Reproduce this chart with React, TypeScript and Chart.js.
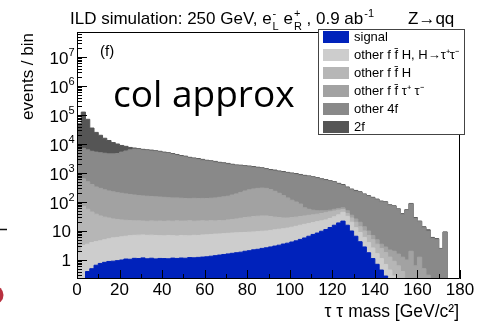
import React, { useEffect, useRef } from 'react';
import { Chart, registerables } from 'chart.js';

Chart.register(...registerables);

// ---- data (events / bin, cumulative stack heights as drawn, 2 GeV bins) ----
const binLowEdges = [
  0, 2, 4, 6, 8, 10, 12, 14, 16, 18,
  20, 22, 24, 26, 28, 30, 32, 34, 36, 38,
  40, 42, 44, 46, 48, 50, 52, 54, 56, 58,
  60, 62, 64, 66, 68, 70, 72, 74, 76, 78,
  80, 82, 84, 86, 88, 90, 92, 94, 96, 98,
  100, 102, 104, 106, 108, 110, 112, 114, 116, 118,
  120, 122, 124, 126, 128, 130, 132, 134, 136, 138,
  140, 142, 144, 146, 148, 150, 152, 154, 156, 158,
  160, 162, 164, 166, 168, 170, 172, 174, 176, 178,
];
const histUpperEdge = 180;

const stackSignal = [
  0.01, 0.2, 0.4, 0.5, 0.66, 0.76, 0.83, 0.89, 0.91, 0.95,
  1.0, 1.08, 1.06, 1.14, 1.12, 1.18, 1.1, 1.15, 1.09, 1.13,
  1.12, 1.1, 1.16, 1.13, 1.17, 1.15, 1.21, 1.19, 1.23, 1.26,
  1.29, 1.35, 1.41, 1.48, 1.55, 1.62, 1.7, 1.78, 1.86, 2.0,
  2.09, 2.24, 2.34, 2.51, 2.63, 2.82, 3.02, 3.24, 3.55, 3.8,
  4.17, 4.57, 5.13, 5.75, 6.6, 7.6, 8.5, 9.8, 11.2, 13.2,
  15.8, 19, 21.9, 15.8, 10, 6.6, 4.27, 2.82, 1.78, 1.12,
  0.71, 0.45, 0.28, 0.16, 0.01, 0.01, 0.01, 0.01, 0.01, 0.01,
  0.01, 0.01, 0.01, 0.01, 0.01, 0.01, 0.01, 0.01, 0.01, 0.01,
];
const stackHtautau = [
  2.0, 3.2, 3.5, 4.0, 4.3, 4.6, 5.0, 5.4, 5.8, 6.0,
  6.3, 6.6, 6.9, 7.1, 7.2, 7.3, 7.1, 7.2, 7.0, 6.9,
  6.8, 7.0, 6.9, 6.7, 7.0, 6.9, 6.8, 7.1, 7.0, 7.3,
  7.4, 7.6, 7.8, 7.9, 8.1, 8.3, 8.5, 8.7, 8.8, 8.9,
  9.1, 9.3, 9.5, 9.8, 10, 10.5, 11, 11.5, 12, 12.6,
  13.5, 14.5, 15.8, 17, 18.2, 19.5, 21, 22.4, 24, 27,
  31, 36, 44, 32, 20, 13, 8.9, 6.0, 4.0, 2.6,
  1.66, 1.12, 0.7, 0.45, 0.28, 0.16, 0.01, 0.01, 0.01, 0.01,
  0.01, 0.01, 0.01, 0.01, 0.01, 0.01, 0.01, 0.01, 0.01, 0.01,
];
const stackFFH = [
  79, 71, 56, 45, 38, 33, 30, 28, 26, 25,
  24, 23.4, 22.9, 22.4, 22.4, 22, 21.6, 22.3, 21.8, 22,
  21.5, 22.2, 21.7, 22.4, 21.9, 22, 22.6, 21.8, 22.1, 22.5,
  22, 22.7, 22.3, 23, 22.6, 24, 25, 26, 27.5, 29,
  30, 31.6, 32.4, 33, 33, 31.6, 30, 29, 28, 28,
  29, 30, 31.6, 33, 34.7, 36, 38, 40, 42.7, 45.7,
  49, 52.5, 55, 40, 28, 20, 14, 10, 7, 5,
  3.5, 2.5, 1.8, 1.26, 0.9, 0.63, 0.4, 0.01, 0.01, 0.01,
  0.01, 0.01, 0.01, 0.01, 0.01, 0.01, 0.01, 0.01, 0.01, 0.01,
];
const stackFFtautau = [
  710, 630, 500, 400, 330, 295, 263, 240, 224, 209,
  200, 190, 182, 174, 166, 162, 158, 155, 151, 148,
  145, 141, 138, 138, 135, 132, 130, 134, 131, 133,
  132, 135, 138, 145, 151, 158, 174, 190, 214, 240,
  263, 282, 295, 302, 295, 269, 234, 200, 166, 138,
  115, 100, 85, 63, 56, 52, 50, 50, 50, 52,
  56, 60, 63, 50, 35, 26, 20, 14, 10, 7,
  5, 3.5, 2.8, 2.2, 2.0, 1.6, 1.25, 1.0, 2.0, 0.63,
  1.25, 0.5, 0.3, 0.01, 0.01, 0.01, 0.01, 0.01, 0.01, 0.01,
];
const stack4f = [
  7100, 7100, 6300, 5600, 5250, 5000, 4800, 4570, 4570, 4680,
  5250, 5750, 6300, 6700, 6480, 6160, 5920, 5780, 5500, 5260,
  4930, 4700, 4420, 4090, 3760, 3570, 3260, 3100, 2970, 2770,
  2590, 2470, 2360, 2200, 2100, 2010, 1880, 1790, 1750, 1670,
  1640, 1560, 1490, 1420, 1330, 1240, 1180, 1100, 1050, 990,
  940, 900, 840, 780, 750, 700, 650, 590, 555, 510,
  470, 415, 375, 310, 265, 235, 212, 180, 155, 137,
  119, 102, 96, 76, 70, 55, 38, 51, 85, 27,
  21, 13, 10, 5.6, 5.2, 2.4, 9, 0.01, 0.01, 0.01,
];
const stack2f = [
  50000, 126000, 71000, 35500, 25100, 20000, 15800, 13200, 11200, 10000,
  8900, 8300, 7600, 7250, 6900, 6550, 6300, 6150, 5850, 5600,
  5250, 5000, 4700, 4350, 4000, 3800, 3470, 3300, 3160, 2950,
  2750, 2630, 2510, 2340, 2240, 2140, 2000, 1900, 1860, 1780,
  1740, 1660, 1580, 1510, 1410, 1320, 1260, 1175, 1120, 1050,
  1000, 955, 890, 830, 795, 740, 690, 630, 590, 540,
  500, 440, 400, 330, 280, 250, 225, 190, 165, 145,
  126, 108, 102, 80, 74, 58, 40, 54, 89, 29,
  22, 14, 11, 6, 5.5, 2.5, 9.3, 0.01, 0.01, 0.01,
];

const seriesLabels = [
  'signal',
  'other f f\u0304 H, H\u2192\u03C4\u207A\u03C4\u207B',
  'other f f\u0304 H',
  'other f f\u0304 \u03C4\u207A \u03C4\u207B',
  'other 4f',
  '2f',
];
const seriesColors = ['#0022bb', '#cdcdcd', '#b6b6b6', '#a2a2a2', '#898989', '#555555'];

const xTickValues = [0, 20, 40, 60, 80, 100, 120, 140, 160, 180];
const yDecadeExponents = [0, 1, 2, 3, 4, 5, 6, 7];

const Y_MIN = 0.221;
const Y_MAX = 7.28e7;

const FONT = '"Liberation Sans", Arial, Helvetica, sans-serif';

function drawTitle(ctx: CanvasRenderingContext2D) {
  const big = 17;
  const small = 11;
  let x = 70;
  const y = 24;
  ctx.textAlign = 'left';
  ctx.textBaseline = 'alphabetic';
  const main = (t: string) => {
    ctx.font = `${big}px ${FONT}`;
    ctx.fillText(t, x, y);
    x += ctx.measureText(t).width;
  };
  const stack = (sup: string, sub: string) => {
    ctx.font = `${small}px ${FONT}`;
    ctx.fillText(sup, x + 1, y - 7);
    ctx.fillText(sub, x + 1, y + 6);
    x += Math.max(ctx.measureText(sup).width, ctx.measureText(sub).width) + 1;
  };
  main('ILD simulation: 250 GeV, e');
  stack('-', 'L');
  main(' e');
  stack('+', 'R');
  main(' , 0.9 ab');
  ctx.font = `${small}px ${FONT}`;
  ctx.fillText('-1', x + 1, y - 7);

  ctx.font = `${big}px ${FONT}`;
  ctx.fillText('Z\u2192qq', 408, y);
}

const decorPlugin = {
  id: 'rootDecor',
  afterDraw(chart: any) {
    const { ctx, chartArea: a, scales } = chart;
    const xs = scales.x;
    const ys = scales.y;
    ctx.save();
    ctx.fillStyle = '#000';
    ctx.strokeStyle = '#000';
    ctx.lineWidth = 1;

    // frame
    ctx.beginPath();
    ctx.moveTo(a.left + 0.5, a.top + 0.5);
    ctx.lineTo(a.right - 0.5, a.top + 0.5);
    ctx.lineTo(a.right - 0.5, a.bottom - 0.5);
    ctx.lineTo(a.left + 0.5, a.bottom - 0.5);
    ctx.closePath();
    ctx.stroke();

    // y ticks (inside)
    ctx.beginPath();
    for (let k = -1; k <= 8; k++) {
      for (let j = 1; j <= 9; j++) {
        const v = j * Math.pow(10, k);
        if (v < Y_MIN || v > Y_MAX) continue;
        const py = Math.round(ys.getPixelForValue(v)) + 0.5;
        const len = j === 1 ? 10 : 5;
        ctx.moveTo(a.left, py);
        ctx.lineTo(a.left + len, py);
      }
    }
    // x ticks (inside)
    for (let v = 0; v <= 180; v += 10) {
      const px = Math.round(xs.getPixelForValue(v)) + 0.5;
      const len = v % 20 === 0 ? 9 : 5;
      ctx.moveTo(px, a.bottom);
      ctx.lineTo(px, a.bottom - len);
    }
    ctx.stroke();

    // y tick labels
    ctx.textBaseline = 'middle';
    for (const k of yDecadeExponents) {
      const py = ys.getPixelForValue(Math.pow(10, k));
      if (k === 0 || k === 1) {
        ctx.font = `17px ${FONT}`;
        ctx.textAlign = 'right';
        ctx.fillText(k === 0 ? '1' : '10', 71, py + 1.5);
      } else {
        ctx.font = `17px ${FONT}`;
        ctx.textAlign = 'right';
        ctx.fillText('10', 68.5, py + 2.5);
        ctx.font = `11px ${FONT}`;
        ctx.textAlign = 'left';
        ctx.fillText(String(k), 68.5, py - 4);
      }
    }

    // x tick labels
    ctx.font = `17px ${FONT}`;
    ctx.textAlign = 'center';
    ctx.textBaseline = 'middle';
    for (const v of xTickValues) {
      ctx.fillText(String(v), xs.getPixelForValue(v), 290);
    }

    // axis titles
    ctx.font = `17.5px ${FONT}`;
    ctx.textAlign = 'right';
    ctx.textBaseline = 'alphabetic';
    ctx.fillText('\u03C4 \u03C4 mass [GeV/c\u00B2]', 459, 317);

    ctx.save();
    ctx.font = `17px ${FONT}`;
    ctx.translate(33, 33);
    ctx.rotate(-Math.PI / 2);
    ctx.textAlign = 'right';
    ctx.fillText('events / bin', 0, 0);
    ctx.restore();

    // title
    drawTitle(ctx);

    // panel label
    ctx.font = `15px ${FONT}`;
    ctx.textAlign = 'left';
    ctx.textBaseline = 'alphabetic';
    ctx.fillText('(f)', 100, 56);

    // legend
    const lx = 318, ly = 29, lw = 147, lh = 106;
    ctx.fillStyle = '#fff';
    ctx.fillRect(lx, ly, lw, lh);
    ctx.strokeStyle = '#444';
    ctx.strokeRect(lx + 0.5, ly + 0.5, lw - 1, lh - 1);
    ctx.font = `13px ${FONT}`;
    ctx.textBaseline = 'middle';
    chart.data.datasets.forEach((ds: any, i: number) => {
      const yc = 37 + i * 18;
      ctx.fillStyle = ds.backgroundColor;
      ctx.fillRect(323, yc - 6, 26, 12);
      ctx.fillStyle = '#000';
      ctx.fillText(ds.label, 354, yc);
    });

    // overlay text
    ctx.font = `37px "Open Sans", "Noto Sans", sans-serif`;
    ctx.textBaseline = 'alphabetic';
    ctx.fillStyle = '#000';
    ctx.fillText('col approx', 113, 107);

    // cropped-edge remnants
    ctx.strokeStyle = '#111';
    ctx.lineWidth = 1.5;
    ctx.beginPath();
    ctx.moveTo(0, 229.5);
    ctx.lineTo(7, 229.5);
    ctx.stroke();
    ctx.fillStyle = '#b8303f';
    ctx.beginPath();
    ctx.arc(-6, 295, 9.5, 0, Math.PI * 2);
    ctx.fill();

    ctx.restore();
  },
};

export default function App() {
  const ref = useRef<HTMLCanvasElement | null>(null);

  useEffect(() => {
    const canvas = ref.current;
    if (!canvas) return;
    const stacks = [stackSignal, stackHtautau, stackFFH, stackFFtautau, stack4f, stack2f];
    const chart = new Chart(canvas, {
      type: 'line',
      data: {
        datasets: stacks.map((arr, i) => ({
          label: seriesLabels[i],
          data: [
            ...binLowEdges.map((x, j) => ({ x, y: arr[j] })),
            { x: histUpperEdge, y: arr[arr.length - 1] },
          ],
          stepped: true,
          fill: 'start',
          backgroundColor: seriesColors[i],
          borderColor: seriesColors[i],
          borderWidth: 1,
          pointRadius: 0,
          tension: 0,
          order: i,
        })),
      },
      options: {
        animation: false,
        responsive: false,
        devicePixelRatio: 1,
        layout: { padding: { left: 77, right: 21, top: 32, bottom: 47 } },
        scales: {
          x: { type: 'linear', min: 0, max: 180, display: false },
          y: { type: 'logarithmic', min: Y_MIN, max: Y_MAX, display: false },
        },
        plugins: {
          legend: { display: false },
          tooltip: { enabled: false },
          title: { display: false },
        },
        events: [],
      },
      plugins: [decorPlugin],
    } as any);
    return () => chart.destroy();
  }, []);

  return (
    <div style={{ position: 'fixed', left: 0, top: 0, width: 481, height: 326, background: '#fff' }}>
      <canvas ref={ref} width={481} height={326} style={{ width: 481, height: 326, display: 'block' }} />
    </div>
  );
}
